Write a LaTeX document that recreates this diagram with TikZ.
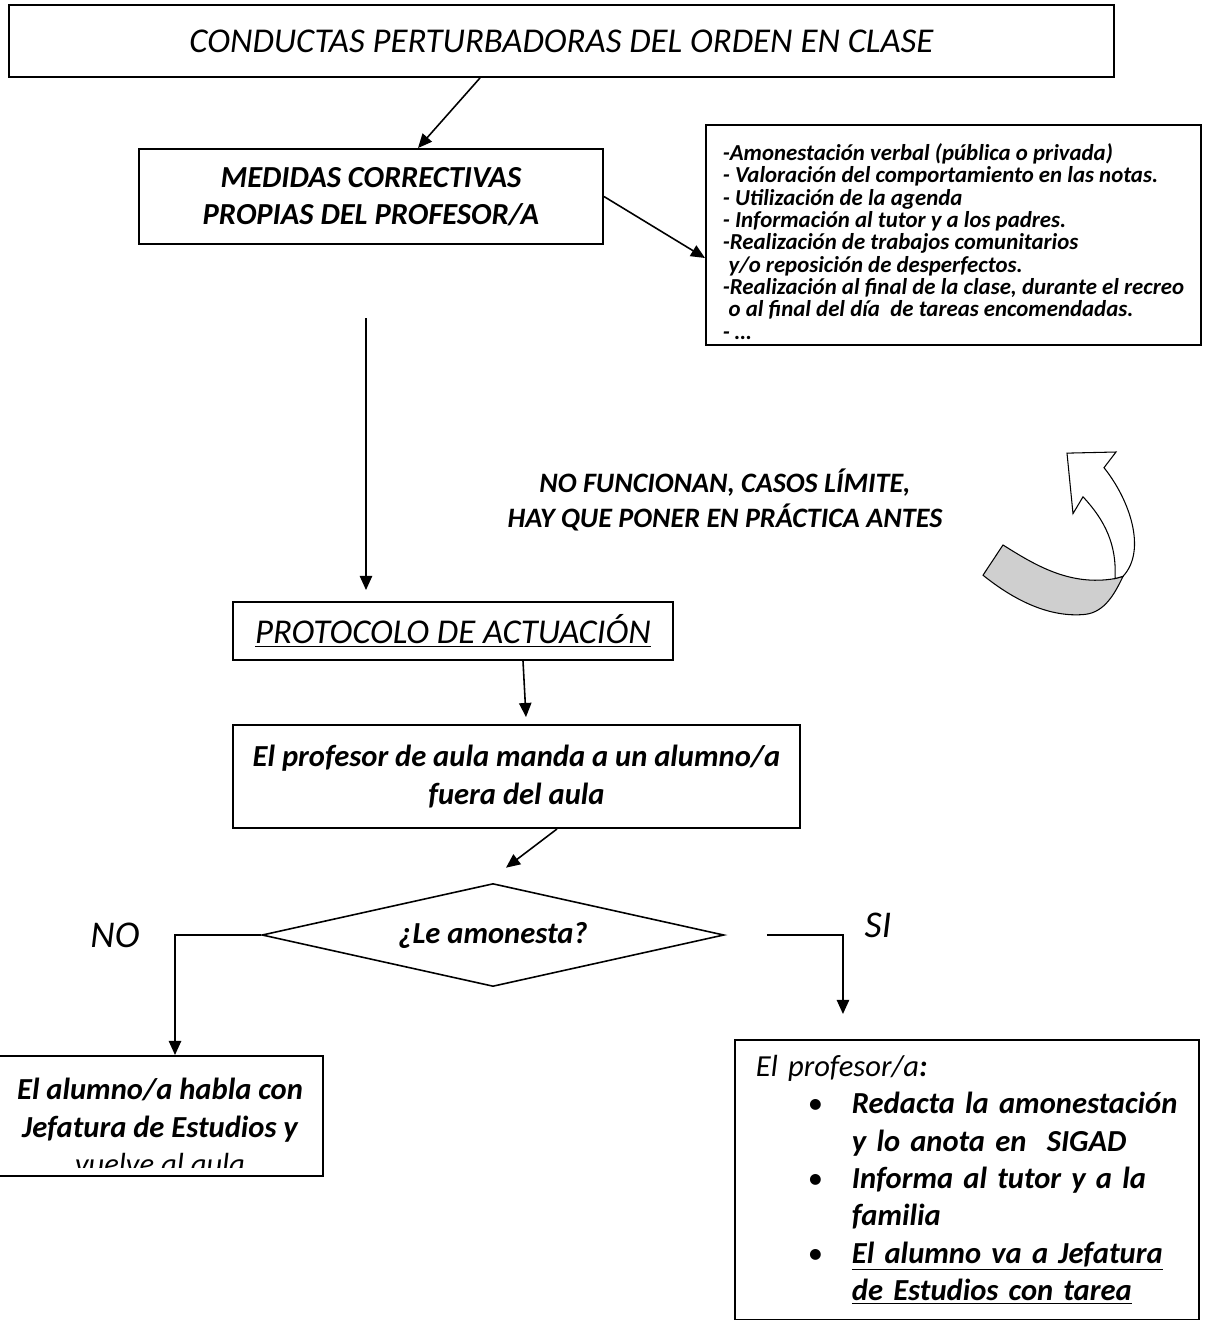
\documentclass[tikz,border=0pt]{standalone}
\usepackage{fontspec}
\setmainfont{Carlito}
\usetikzlibrary{arrows.meta,shapes.geometric}

\newcommand{\fuentetitulo}{\fontsize{19.8}{23}\selectfont\itshape}
\newcommand{\fuentecaja}{\fontsize{17.4}{21.3}\selectfont\bfseries\itshape}
\newcommand{\fuentelista}{\fontsize{13}{12.7}\selectfont\bfseries\itshape}
\newcommand{\fuenteaviso}{\fontsize{16}{19.8}\selectfont\bfseries\itshape}
\newcommand{\fuenteetiqueta}{\fontsize{21.5}{25}\selectfont\itshape}
\newcommand{\punto}{\makebox[1.92cm][l]{\hspace{1.04cm}\normalfont\fontsize{17.4}{21.3}\selectfont •}}

\begin{document}
\begin{tikzpicture}[
	caja/.style={draw, rectangle, line width=1.1pt, inner sep=0pt, align=center},
	rombo/.style={draw, diamond, line width=0.9pt, inner sep=0pt, aspect=4.5},
	flecha/.style={-{Triangle[length=8pt, width=7pt]}, line width=0.9pt},
	]
	\useasboundingbox (0, 0) rectangle (24.12, -26.4);
	\node[caja, minimum width=22.1cm, minimum height=1.44cm, font=\fuentetitulo] (titulo)at(11.23, -0.82) {CONDUCTAS PERTURBADORAS DEL ORDEN EN CLASE};
	\node[caja, minimum width=9.28cm, minimum height=1.9cm, font=\fuentecaja] (medidas)at(7.42, -3.93) {MEDIDAS CORRECTIVAS\\ PROPIAS DEL PROFESOR/A};
	\node[caja, minimum width=9.9cm, minimum height=4.4cm, align=left, font=\fuentelista] (lista)at(19.07, -4.7) {\rule{0pt}{17pt}-Amonestación verbal (pública o privada)\\
		- Valoración del comportamiento en las notas.\\
		- Utilización de la agenda\\
		- Información al tutor y a los padres.\\
		-Realización de trabajos comunitarios\\
		\hspace*{0.25em}y/o reposición de desperfectos.\\
		-Realización al final de la clase, durante el recreo\\
		\hspace*{0.25em}o al final del día~ de tareas encomendadas.\\
		- …};
	\node[align=center, font=\fuenteaviso] (aviso)at(14.5, -10.0) {NO FUNCIONAN, CASOS LÍMITE,\\ HAY QUE PONER EN PRÁCTICA ANTES};
	\node[caja, minimum width=8.8cm, minimum height=1.16cm, font=\fuentetitulo] (protocolo)at(9.06, -12.62) {\underline{PROTOCOLO DE ACTUACIÓN}};
	\node[caja, minimum width=11.34cm, minimum height=2.06cm, font=\fuentecaja] (aula)at(10.33, -15.53) {El profesor de aula manda a un alumno/a\\ fuera del aula};
	\node[rombo, minimum width=9.24cm, minimum height=2.06cm, font=\fuentecaja] (decision)at(9.86, -18.7) {¿Le amonesta?};
	\node[font=\fuenteetiqueta] (no)at(2.3, -18.7) {NO};
	\node[font=\fuenteetiqueta] (si)at(17.56, -18.5) {SI};
	\node[caja, minimum width=6.48cm, minimum height=2.4cm] (izq)at(3.22, -22.32) {};
	\begin{scope}
		\clip ([xshift=0.05cm]izq.north west) rectangle ([yshift=0.18cm]izq.south east);
		\node[align=center, anchor=north, inner sep=0pt, font=\fuentecaja] (izqtexto)at(3.2, -21.56) {El alumno/a habla con\\ Jefatura de Estudios y\\ {\mdseries vuelve al aula}};
	\end{scope}
	\node[caja, anchor=north west, text width=8.44cm, align=left, inner xsep=0.42cm, inner ysep=0.3cm, font=\fuentecaja] (derecha)at(14.68, -20.78) {{\mdseries El profesor/a}:\\
		\punto Redacta la amonestación\\
		\hspace*{1.92cm}y lo anota en~ SIGAD\\
		\punto Informa al tutor y a la\\
		\hspace*{1.92cm}familia\\
		\punto \underline{El alumno va a Jefatura}\\
		\hspace*{1.92cm}\underline{de Estudios con tarea}};
	% cinta curva
	\begin{scope}[yshift=-9.04cm, yscale=1.12, yshift=9.04cm]
		\filldraw[fill=gray!38, line width=0.6pt] (22.3, -11.3) .. controls (21.4, -11.44) and (20.7, -11.06) .. (20.06, -10.7) -- (19.66, -11.24) .. controls (20.3, -11.7) and (21.0, -12.0) .. (21.7, -11.94) .. controls (22.1, -11.9) and (22.3, -11.56) .. (22.46, -11.26) -- cycle;
		\filldraw[fill=white, line width=0.6pt] (21.66, -9.84) -- (21.46, -10.14) -- (21.34, -9.06) -- (22.32, -9.04) -- (22.08, -9.32) .. controls (22.6, -9.9) and (22.94, -10.8) .. (22.46, -11.26) -- (22.3, -11.3) .. controls (22.34, -10.7) and (22.1, -10.26) .. (21.66, -9.84) -- cycle;
	\end{scope}
	% conectores
	\coordinate (inicio)at(7.32, -6.36);
	\draw[flecha] ([xshift=-1.63cm]titulo.south) -- ([xshift=0.94cm]medidas.north);
	\draw[flecha] (medidas.east) -- ([yshift=-0.46cm]lista.west);
	\draw[flecha] (inicio) -- ([xshift=-1.74cm, yshift=0.22cm]protocolo.north);
	\draw[flecha] ([xshift=1.4cm]protocolo.south) -- ([xshift=0.19cm, yshift=0.14cm]aula.north);
	\draw[flecha] ([xshift=0.81cm]aula.south) -- ([xshift=0.26cm, yshift=0.3cm]decision.north);
	\draw[flecha] (decision.west) -| ([xshift=0.28cm]izq.north);
	\draw[flecha] ([xshift=0.84cm]decision.east) -| ([xshift=-2.48cm, yshift=0.5cm]derecha.north);
\end{tikzpicture}
\end{document}
